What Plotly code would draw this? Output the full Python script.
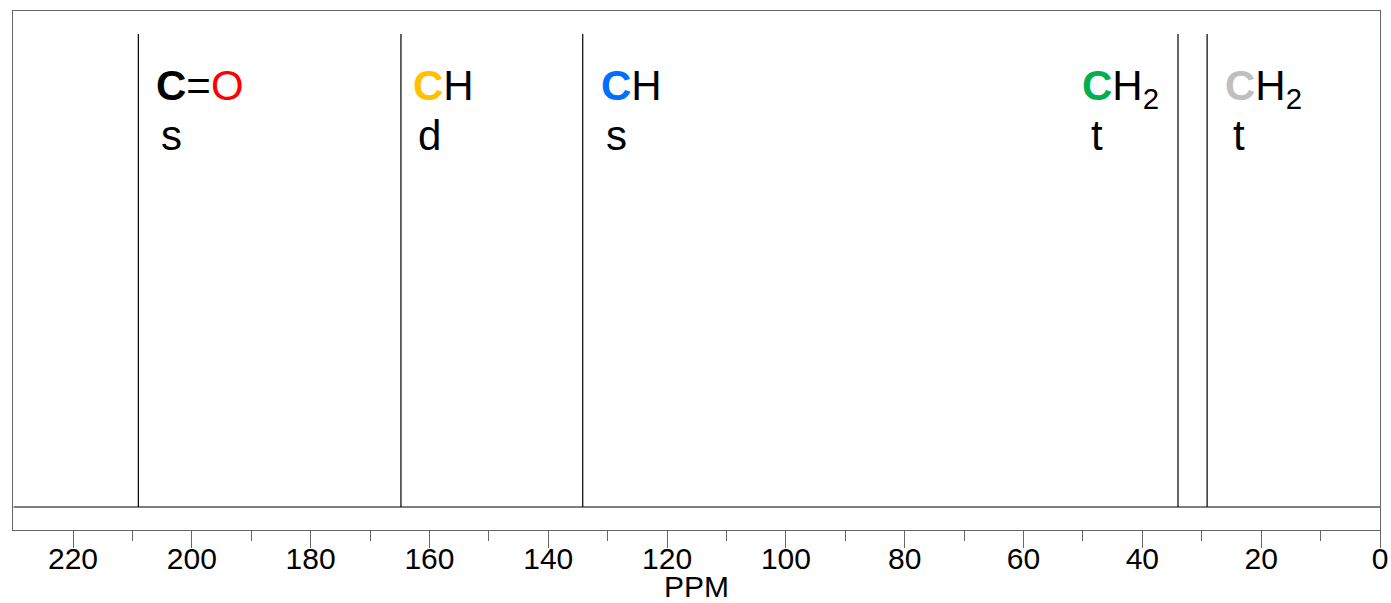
import plotly.graph_objects as go

# Peak data (ppm) and relative heights
peak_ppm = [209.0, 164.8, 134.2, 34.0, 29.1]
peak_height = [1.0, 1.0, 1.0, 1.0, 1.0]
x_min, x_max = 0, 230

# Labels
group_labels = [
    "<b>C</b>=<span style='color:#FF0000'>O</span>",
    "<b><span style='color:#FFC000'>C</span></b>H",
    "<b><span style='color:#006EFF'>C</span></b>H",
    "<b><span style='color:#00B050'>C</span></b>H<sub>2</sub>",
    "<b><span style='color:#BFBFBF'>C</span></b>H<sub>2</sub>",
]
multiplicity = ["s", "d", "s", "t", "t"]
label_ppm = [206.3, 163.1, 131.5, 50.5, 26.5]
mult_ppm = [205.5, 162.3, 130.6, 49.0, 25.1]

# Build spectrum line
xs = [x_max]
ys = [0]
for p, h in sorted(zip(peak_ppm, peak_height), reverse=True):
    xs += [p, p, p]
    ys += [0, h, 0]
xs.append(x_min)
ys.append(0)

fig = go.Figure()
fig.add_trace(go.Scatter(x=xs, y=ys, mode="lines",
                         line=dict(color="black", width=1.2), hoverinfo="skip"))

font_family = "Liberation Sans, Arial, sans-serif"
for lp, lab, mp, m in zip(label_ppm, group_labels, mult_ppm, multiplicity):
    fig.add_annotation(x=lp, y=0.905, xref="x", yref="paper", text=lab,
                       showarrow=False, xanchor="left", yanchor="top",
                       font=dict(size=42, color="black", family=font_family))
    fig.add_annotation(x=mp, y=0.81, xref="x", yref="paper", text=m,
                       showarrow=False, xanchor="left", yanchor="top",
                       font=dict(size=42, color="black", family=font_family))

fig.update_layout(
    width=1391, height=603,
    margin=dict(l=13, r=11, t=11, b=73, autoexpand=False),
    paper_bgcolor="white", plot_bgcolor="white",
    showlegend=False,
    font=dict(family=font_family, color="black"),
)
fig.update_xaxes(
    range=[230.1, 0], autorange=False, automargin=False,
    tickmode="array", tickvals=list(range(0, 221, 20)),
    ticktext=[str(v) for v in range(0, 221, 20)],
    ticks="outside", ticklen=17, tickcolor="#666666", tickwidth=1,
    minor=dict(tickmode="array", tickvals=list(range(10, 221, 20)),
               ticks="outside", ticklen=10, tickcolor="#666666", tickwidth=1),
    tickfont=dict(size=30, color="black"),
    ticklabelstandoff=-15,
    showline=True, linecolor="#666666", linewidth=1, mirror=True,
    showgrid=False, zeroline=False,
    title=dict(text="PPM", font=dict(size=30, color="black"), standoff=3),
)
fig.update_yaxes(
    range=[-0.0486, 1.0486], showticklabels=False, ticks="", automargin=False,
    showline=True, linecolor="#666666", linewidth=1, mirror=True,
    showgrid=False, zeroline=False,
)

fig.write_html("out.html")
